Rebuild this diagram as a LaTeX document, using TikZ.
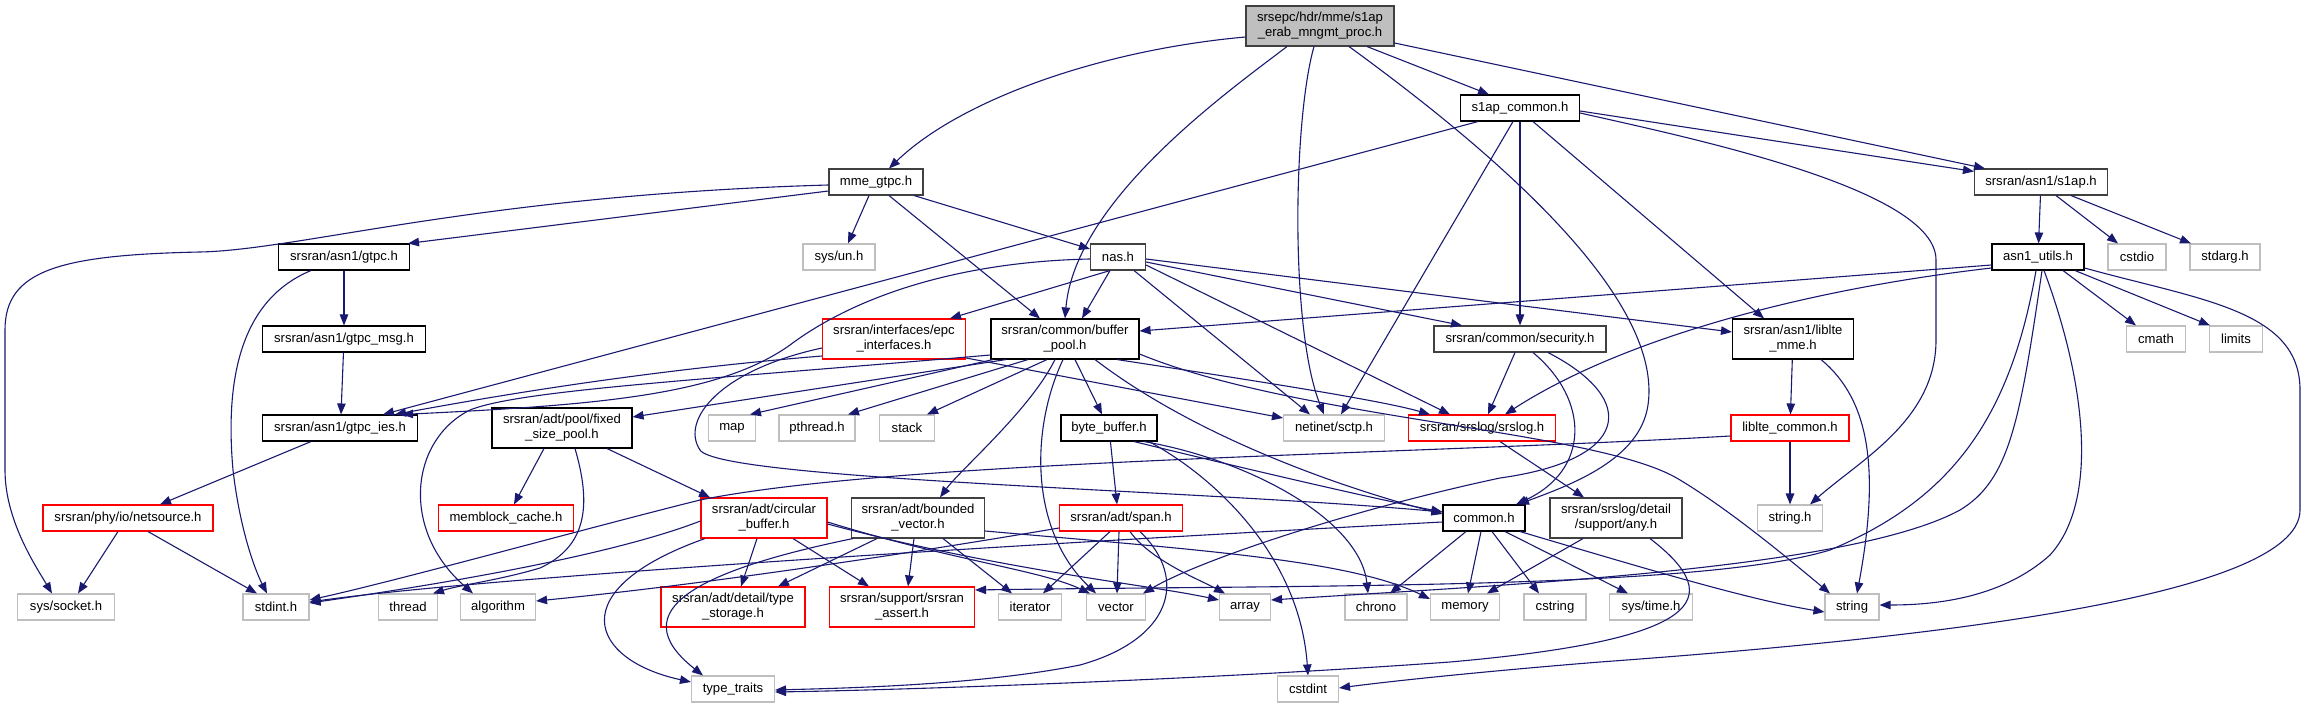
\documentclass[tikz,border=0pt]{standalone}
\usepackage{fontspec}
\setmainfont{Liberation Sans}
\usetikzlibrary{arrows.meta}
\definecolor{edgec}{HTML}{191970}
\definecolor{greyb}{HTML}{BFBFBF}
\definecolor{darkb}{HTML}{404040}
\tikzset{
  bx/.style={draw=black,line width=1.1pt,fill=white,inner sep=0pt,minimum height=26pt,align=center,
    font=\fontsize{13.1}{15}\selectfont},
  tall/.style={minimum height=40pt},
  dk/.style={draw=darkb},
  gr/.style={draw=greyb},
  rd/.style={draw=red},
  rootbox/.style={fill=greyb,draw=darkb,minimum height=40pt},
  e/.style={draw=edgec,line width=1.1pt,-{Triangle[length=11pt,width=8.5pt]}}
}
\begin{document}
\begin{tikzpicture}[x=1pt,y=-1pt]
\useasboundingbox (0,0) rectangle (2308,708);
% nodes
\node[bx,rootbox,minimum width=148pt] (root) at (1320,26) {srsepc/hdr/mme/s1ap\\\_erab\_mngmt\_proc.h};
\node[bx,dk,minimum width=94pt] (mme) at (876,182) {mme\_gtpc.h};
\node[bx,minimum width=119pt] (s1c) at (1520,108) {s1ap\_common.h};
\node[bx,dk,minimum width=133pt] (s1ap) at (2041,182) {srsran/asn1/s1ap.h};
\node[bx,minimum width=131pt] (gtpc) at (344,257) {srsran/asn1/gtpc.h};
\node[bx,gr,minimum width=72pt] (un) at (839,257) {sys/un.h};
\node[bx,dk,minimum width=55pt] (nas) at (1118,257) {nas.h};
\node[bx,minimum width=92pt] (utils) at (2038,257) {asn1\_utils.h};
\node[bx,gr,minimum width=58pt] (cstdio) at (2137,257) {cstdio};
\node[bx,gr,minimum width=70pt] (stdarg) at (2225,257) {stdarg.h};
\node[bx,minimum width=163pt] (gmsg) at (344,339) {srsran/asn1/gtpc\_msg.h};
\node[bx,rd,tall,minimum width=143pt] (epc) at (894,339) {srsran/interfaces/epc\\\_interfaces.h};
\node[bx,tall,minimum width=148pt] (bpool) at (1065,339) {srsran/common/buffer\\\_pool.h};
\node[bx,dk,minimum width=172pt] (sec) at (1520,339) {srsran/common/security.h};
\node[bx,tall,minimum width=121pt] (lmme) at (1793,339) {srsran/asn1/liblte\\\_mme.h};
\node[bx,gr,minimum width=59pt] (cmath) at (2156,339) {cmath};
\node[bx,gr,minimum width=53pt] (limits) at (2236,339) {limits};
\node[bx,minimum width=155pt] (gies) at (340,428) {srsran/asn1/gtpc\_ies.h};
\node[bx,tall,minimum width=140pt] (fpool) at (562,428) {srsran/adt/pool/fixed\\\_size\_pool.h};
\node[bx,gr,minimum width=47pt] (map) at (732,428) {map};
\node[bx,gr,minimum width=76pt] (pthread) at (817,428) {pthread.h};
\node[bx,gr,minimum width=55pt] (stack) at (907,428) {stack};
\node[bx,minimum width=96pt] (bbuf) at (1109,428) {byte\_buffer.h};
\node[bx,gr,minimum width=101pt] (sctp) at (1334,428) {netinet/sctp.h};
\node[bx,rd,minimum width=147pt] (slog) at (1482,428) {srsran/srslog/srslog.h};
\node[bx,rd,minimum width=118pt] (lcom) at (1790,428) {liblte\_common.h};
\node[bx,rd,minimum width=170pt] (nsrc) at (128,518) {srsran/phy/io/netsource.h};
\node[bx,rd,minimum width=135pt] (memb) at (506,518) {memblock\_cache.h};
\node[bx,rd,tall,minimum width=126pt] (circ) at (764,518) {srsran/adt/circular\\\_buffer.h};
\node[bx,dk,tall,minimum width=133pt] (bvec) at (918,518) {srsran/adt/bounded\\\_vector.h};
\node[bx,rd,minimum width=123pt] (span) at (1121,518) {srsran/adt/span.h};
\node[bx,minimum width=82pt] (common) at (1484,518) {common.h};
\node[bx,dk,tall,minimum width=132pt] (any) at (1616,518) {srsran/srslog/detail\\/support/any.h};
\node[bx,gr,minimum width=65pt] (strh) at (1790,518) {string.h};
\node[bx,gr,minimum width=97pt] (socket) at (66,607) {sys/socket.h};
\node[bx,gr,minimum width=66pt] (stdint) at (276,607) {stdint.h};
\node[bx,gr,minimum width=59pt] (thread) at (408,607) {thread};
\node[bx,gr,minimum width=75pt] (algo) at (498,607) {algorithm};
\node[bx,rd,tall,minimum width=144pt] (tstor) at (733,607) {srsran/adt/detail/type\\\_storage.h};
\node[bx,rd,tall,minimum width=145pt] (assert) at (902,607) {srsran/support/srsran\\\_assert.h};
\node[bx,gr,minimum width=63pt] (iter) at (1030,607) {iterator};
\node[bx,gr,minimum width=59pt] (vector) at (1116,607) {vector};
\node[bx,gr,minimum width=51pt] (array) at (1245,607) {array};
\node[bx,gr,minimum width=62pt] (chrono) at (1376,607) {chrono};
\node[bx,gr,minimum width=69pt] (memory) at (1465,607) {memory};
\node[bx,gr,minimum width=62pt] (cstring) at (1555,607) {cstring};
\node[bx,gr,minimum width=83pt] (systime) at (1651,607) {sys/time.h};
\node[bx,gr,minimum width=54pt] (string) at (1852,607) {string};
\node[bx,gr,minimum width=83pt] (ttraits) at (733,689) {type\_traits};
\node[bx,gr,minimum width=61pt] (cstdint) at (1308,689) {cstdint};
% edges
\draw[e] ([yshift=-11pt]root.west) .. controls (1100,50) and (960,100) .. ([xshift=13pt]mme.north);
\draw[e] ([xshift=-33pt]root.south) .. controls (1230,90) and (1075,200) .. (bpool.north);
\draw[e] ([xshift=-6pt]root.south) .. controls (1293,120) and (1290,330) .. ([xshift=-10pt]sctp.north);
\draw[e] ([xshift=29pt]root.south) .. controls (1560,200) and (1660,320) .. (1648,405) .. controls (1640,460) and (1570,485) .. ([xshift=34pt]common.north);
\draw[e] ([xshift=47pt]root.south) -- ([xshift=-31pt]s1c.north);
\draw[e] ([yshift=-17pt]root.east) -- ([xshift=-56pt]s1ap.north);
\draw[e] ([yshift=-3pt]mme.west) .. controls (480,195) and (300,250) .. (200,252) .. controls (60,255) and (5,270) .. (5,330) -- (5,470) .. controls (5,520) and (35,565) .. ([xshift=-14pt]socket.north);
\draw[e] ([yshift=-9pt]mme.west) -- ([xshift=64pt]gtpc.north);
\draw[e] ([xshift=-7pt]mme.south) -- ([xshift=9pt]un.north);
\draw[e] ([xshift=13pt]mme.south) -- ([xshift=-25pt]bpool.north);
\draw[e] ([xshift=38pt]mme.south) -- ([yshift=8pt]nas.west);
\draw[e] ([xshift=-42pt]s1c.south) -- ([xshift=43pt]gies.north);
\draw[e] ([xshift=-7pt]s1c.south) -- ([xshift=7pt]sctp.north);
\draw[e] (s1c) -- (sec);
\draw[e] ([xshift=13pt]s1c.south) -- ([xshift=-29pt]lmme.north);
\draw[e] ([yshift=-3pt]s1c.east) -- ([yshift=-3pt]s1ap.north west);
\draw[e] ([yshift=-5pt]s1c.east) .. controls (1700,140) and (1936,190) .. (1936,260) -- (1936,340) .. controls (1936,420) and (1860,460) .. ([xshift=20pt]strh.north);
\draw[e] (s1ap) -- (utils);
\draw[e] ([xshift=15pt]s1ap.south) -- ([xshift=-19pt]cstdio.north);
\draw[e] ([xshift=30pt]s1ap.south) -- ([xshift=-34pt]stdarg.north);
\draw[e] ([yshift=-8pt]utils.west) -- ([yshift=8pt]bpool.east);
\draw[e] ([yshift=-11pt]utils.west) .. controls (1800,290) and (1620,340) .. ([xshift=23pt]slog.north);
\draw[e] ([xshift=25pt]utils.south) -- ([xshift=-20pt]cmath.north);
\draw[e] ([xshift=37pt]utils.south) -- ([xshift=-26pt]limits.north);
\draw[e] ([xshift=6pt]utils.south) .. controls (2085,380) and (2100,500) .. (2050,555) .. controls (2000,600) and (1930,605) .. ([yshift=2pt]string.east);
\draw[e] ([yshift=-11pt]utils.east) .. controls (2200,300) and (2300,310) .. (2300,390) -- (2300,510) .. controls (2300,600) and (1900,640) .. (1600,662) .. controls (1500,670) and (1400,680) .. ([yshift=1pt]cstdint.east);
\draw[e] ([xshift=-2pt]utils.south) .. controls (2010,420) and (1950,500) .. (1830,550) .. controls (1700,590) and (1300,585) .. ([yshift=17pt]assert.east);
\draw[e] ([xshift=4pt]utils.south) .. controls (2020,420) and (2010,480) .. (1960,510) .. controls (1850,570) and (1500,585) .. ([yshift=7pt]array.east);
\draw[e] ([yshift=-2pt]nas.west) .. controls (950,262) and (850,300) .. (790,345) .. controls (720,395) and (600,405) .. ([xshift=62pt]gies.north);
\draw[e] ([xshift=-8pt]nas.south) -- ([xshift=56pt]epc.north);
\draw[e] ([xshift=-8pt]nas.south) -- ([xshift=17pt]bpool.north);
\draw[e] ([xshift=16pt]nas.south) -- ([xshift=-24pt]sctp.north);
\draw[e] ([yshift=-8pt]nas.east) -- ([xshift=-32pt]slog.north);
\draw[e] ([yshift=-5pt]nas.east) -- ([xshift=-58pt]sec.north);
\draw[e] ([yshift=-2pt]nas.east) -- ([yshift=7pt]lmme.west);
\draw[e] ([yshift=-17pt]epc.west) .. controls (650,370) and (500,395) .. ([xshift=55pt]gies.north);
\draw[e] ([yshift=-9pt]epc.west) .. controls (720,370) and (680,420) .. (700,450) .. controls (720,480) and (1200,490) .. ([yshift=6pt]common.west);
\draw[e] ([yshift=-19pt]epc.east) -- ([yshift=10pt]sctp.west);
\draw[e] ([xshift=-59pt]bpool.south) -- ([yshift=11pt]fpool.east);
\draw[e] ([xshift=-72pt]bpool.south) -- ([xshift=18pt]map.north);
\draw[e] ([xshift=-37pt]bpool.south) -- ([xshift=31pt]pthread.north);
\draw[e] ([xshift=-18pt]bpool.south) -- ([xshift=20pt]stack.north);
\draw[e] ([xshift=10pt]bpool.south) -- ([xshift=-7pt]bbuf.north);
\draw[e] ([xshift=-10pt]bpool.south) .. controls (1030,410) and (960,470) .. ([xshift=22pt]bvec.north);
\draw[e] ([xshift=-2pt]bpool.south) .. controls (1030,430) and (1030,530) .. ([xshift=-20pt]vector.north);
\draw[e] ([yshift=-16pt]bpool.west) .. controls (700,380) and (520,390) .. (470,410) .. controls (410,440) and (400,530) .. ([xshift=-25pt]algo.north);
\draw[e] ([xshift=30pt]bpool.south) .. controls (1200,440) and (1350,490) .. ([yshift=4pt]common.west);
\draw[e] ([xshift=52pt]bpool.south) .. controls (1250,380) and (1380,400) .. ([xshift=-52pt]slog.north);
\draw[e] ([yshift=-15pt]bpool.east) .. controls (1300,420) and (1600,430) .. (1680,480) .. controls (1730,510) and (1790,560) .. ([xshift=-22pt]string.north);
\draw[e] (bbuf) -- ([xshift=-4pt]span.north);
\draw[e] ([xshift=25pt]bbuf.south) .. controls (1250,470) and (1380,500) .. ([yshift=6pt]common.west);
\draw[e] ([xshift=35pt]bbuf.south) .. controls (1250,460) and (1360,520) .. ([xshift=-8pt]chrono.north);
\draw[e] ([xshift=40pt]bbuf.south) .. controls (1220,480) and (1300,560) .. (cstdint.north);
\draw[e] ([xshift=-18pt]fpool.south) -- ([xshift=8pt]memb.north);
\draw[e] ([xshift=45pt]fpool.south) -- ([xshift=-54pt]circ.north);
\draw[e] ([xshift=13pt]fpool.south) .. controls (590,500) and (590,545) .. (540,568) .. controls (500,580) and (460,585) .. ([xshift=25pt]thread.north);
\draw[e] ([xshift=-7pt]circ.south) -- ([xshift=8pt]tstor.north);
\draw[e] ([xshift=29pt]circ.south) -- ([xshift=-33pt]assert.north);
\draw[e] ([xshift=-59pt]circ.south) .. controls (560,590) and (590,660) .. ([yshift=7pt]ttraits.west);
\draw[e] ([yshift=-4pt]circ.east) .. controls (950,560) and (1040,570) .. ([xshift=-26pt]vector.north);
\draw[e] ([yshift=-6pt]circ.east) .. controls (1000,570) and (1150,585) .. ([yshift=7pt]array.west);
\draw[e] ([yshift=-3pt]circ.west) .. controls (600,560) and (400,590) .. ([yshift=4pt]stdint.east);
\draw[e] ([xshift=-41pt]bvec.south) -- ([xshift=45pt]tstor.north);
\draw[e] ([xshift=-4pt]bvec.south) -- ([xshift=6pt]assert.north);
\draw[e] ([xshift=25pt]bvec.south) -- ([xshift=-18pt]iter.north);
\draw[e] ([yshift=-13pt]bvec.east) .. controls (1200,550) and (1350,560) .. ([yshift=8pt]memory.west);
\draw[e] ([xshift=2pt]bvec.south west) .. controls (700,570) and (620,610) .. ([xshift=-30pt]ttraits.north);
\draw[e] ([xshift=-11pt]span.south) -- ([xshift=13pt]iter.north);
\draw[e] ([xshift=-2pt]span.south) -- ([xshift=1pt]vector.north);
\draw[e] ([xshift=9pt]span.south) .. controls (1150,560) and (1200,580) .. ([xshift=-20pt]array.north);
\draw[e] ([xshift=19pt]span.south) .. controls (1190,580) and (1170,640) .. (1080,665) .. controls (980,685) and (850,688) .. ([yshift=-1pt]ttraits.east);
\draw[e] ([yshift=-10pt]span.west) .. controls (900,555) and (700,585) .. ([yshift=6pt]algo.east);
\draw[e] ([xshift=-18pt]common.south) -- ([xshift=14pt]chrono.north);
\draw[e] ([xshift=-3pt]common.south) -- ([xshift=3pt]memory.north);
\draw[e] ([xshift=8pt]common.south) -- ([xshift=-16pt]cstring.north);
\draw[e] ([xshift=21pt]common.south) -- ([xshift=-23pt]systime.north);
\draw[e] ([xshift=36pt]common.south) .. controls (1650,570) and (1750,600) .. ([yshift=-5pt]string.west);
\draw[e] ([yshift=-4pt]common.west) .. controls (1100,540) and (500,575) .. ([yshift=5pt]stdint.east);
\draw[e] ([xshift=-33pt]any.south) -- ([xshift=22pt]memory.north);
\draw[e] ([xshift=34pt]any.south) .. controls (1730,600) and (1700,640) .. (1450,662) .. controls (1200,680) and (900,690) .. ([yshift=-3pt]ttraits.east);
\draw[e] (lmme) -- (lcom);
\draw[e] ([xshift=28pt]lmme.south) .. controls (1870,400) and (1880,470) .. ([xshift=5pt]string.north);
\draw[e] (lcom) -- (strh);
\draw[e] ([yshift=-8pt]lcom.west) .. controls (1400,455) and (900,460) .. (700,500) .. controls (580,530) and (400,580) .. ([yshift=7pt]stdint.east);
\draw[e] ([xshift=18pt]slog.south) -- ([xshift=-32pt]any.north);
\draw[e] ([xshift=-5pt]sec.south) -- ([xshift=6pt]slog.north);
\draw[e] ([xshift=13pt]sec.south) .. controls (1590,400) and (1590,470) .. ([xshift=32pt]common.north);
\draw[e] ([xshift=28pt]sec.south) .. controls (1640,400) and (1630,460) .. (1500,478) .. controls (1350,510) and (1200,560) .. ([xshift=27pt]vector.north);
\draw[e] (gtpc) -- (gmsg);
\draw[e] ([xshift=-33pt]gtpc.south) .. controls (240,300) and (225,380) .. (233,470) .. controls (240,530) and (255,570) .. ([xshift=-9pt]stdint.north);
\draw[e] (gmsg) -- ([xshift=1pt]gies.north);
\draw[e] ([xshift=-29pt]gies.south) -- ([xshift=32pt]nsrc.north);
\draw[e] ([xshift=-10pt]nsrc.south) -- ([xshift=12pt]socket.north);
\draw[e] ([xshift=20pt]nsrc.south) -- ([xshift=-19pt]stdint.north);
\end{tikzpicture}
\end{document}
